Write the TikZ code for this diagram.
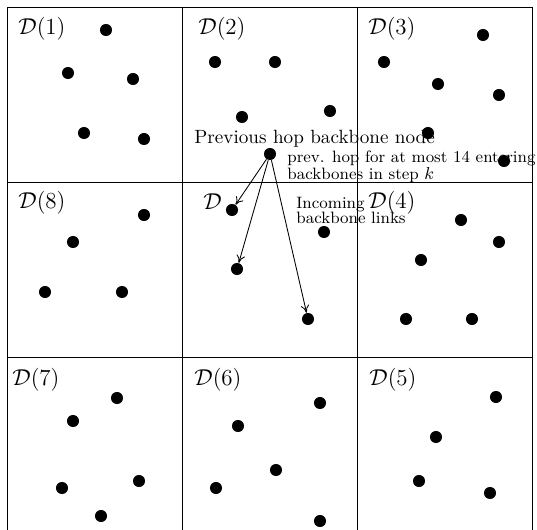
\documentclass[tikz,border=0pt]{standalone}
\usepackage{tikz}
\usepackage{xcolor}
\usepackage{amsmath}
\usetikzlibrary{arrows.meta}
\definecolor{colorOne}{HTML}{000000}
\def\colorOne{colorOne}

\begin{document}
\begin{tikzpicture}[x=0.522pt, y=-0.522pt,
  dot/.style={circle, fill=\colorOne, inner sep=0pt, minimum size=6.3pt},
  cell/.style={anchor=west, inner sep=0pt, font=\large},
  lien/.style={-{To[length=4pt,width=4.5pt]}, line width=0.45pt},
  note/.style={inner sep=0pt, align=left, font=\fontsize{8.6}{7.8}\selectfont}
  ]

% Cadre de l'image
\useasboundingbox (0,0) rectangle (537,529);
\clip (0,0) rectangle (537,529);

% La grille 3x3
\foreach \k in {7,182,357,532} {
  \draw[line width=0.5pt] (\k,7) -- (\k,532);
  \draw[line width=0.5pt] (7,\k) -- (532,\k);
}

% Les noms des cases
\node[cell] (l1) at (18,29) {$\mathcal{D}(1)$};
\node[cell] (l2) at (198,29) {$\mathcal{D}(2)$};
\node[cell] (l3) at (368,29) {$\mathcal{D}(3)$};
\node[cell] (l8) at (18,203) {$\mathcal{D}(8)$};
\node[cell] (l0) at (203,202) {$\mathcal{D}$};
\node[cell] (l4) at (368,203) {$\mathcal{D}(4)$};
\node[cell] (l7) at (12,380) {$\mathcal{D}(7)$};
\node[cell] (l6) at (194,380) {$\mathcal{D}(6)$};
\node[cell] (l5) at (369,380) {$\mathcal{D}(5)$};

% Les noeuds de chaque case
\foreach \p [count=\i] in {(106,30),(68,73),(133,79),(84,133),(144,139)}
  \node[dot] (a\i) at \p {};
\foreach \p [count=\i] in {(215,62),(275,62),(242,117),(330,111)}
  \node[dot] (b\i) at \p {};
\foreach \p [count=\i] in {(483,35),(384,62),(438,84),(499,95),(428,133),(504,161)}
  \node[dot] (c\i) at \p {};
\foreach \p [count=\i] in {(144,215),(73,242),(45,292),(122,292)}
  \node[dot] (h\i) at \p {};
\foreach \p [count=\i] in {(461,220),(499,242),(421,260),(406,319),(472,319)}
  \node[dot] (d\i) at \p {};
\foreach \p [count=\i] in {(117,398),(73,421),(62,488),(139,481),(101,516)}
  \node[dot] (g\i) at \p {};
\foreach \p [count=\i] in {(320,403),(238,426),(276,470),(216,488),(320,521)}
  \node[dot] (f\i) at \p {};
\foreach \p [count=\i] in {(496,397),(436,437),(419,481),(490,493)}
  \node[dot] (e\i) at \p {};

% Case centrale
\node[dot] (t1) at (232,210) {};
\node[dot] (t2) at (237,269) {};
\node[dot] (t3) at (324,232) {};
\node[dot] (t4) at (308,319) {};

% Le noeud du saut precedent
\node[dot] (prev) at (270,154) {};
\node[inner sep=0pt, anchor=base west, font=\normalsize] (titre) at (194,143)
  {Previous hop backbone node};
\node[note, anchor=west] (pas) at (287,167)
  {prev. hop for at most 14 entering\\backbones in step $k$};
\node[note, anchor=west] (entree) at (296,210)
  {Incoming\\backbone links};

% Les liens entrants
\foreach \t in {t1,t2,t4}
  \draw[lien] (prev) -- (\t);

\end{tikzpicture}
\end{document}
